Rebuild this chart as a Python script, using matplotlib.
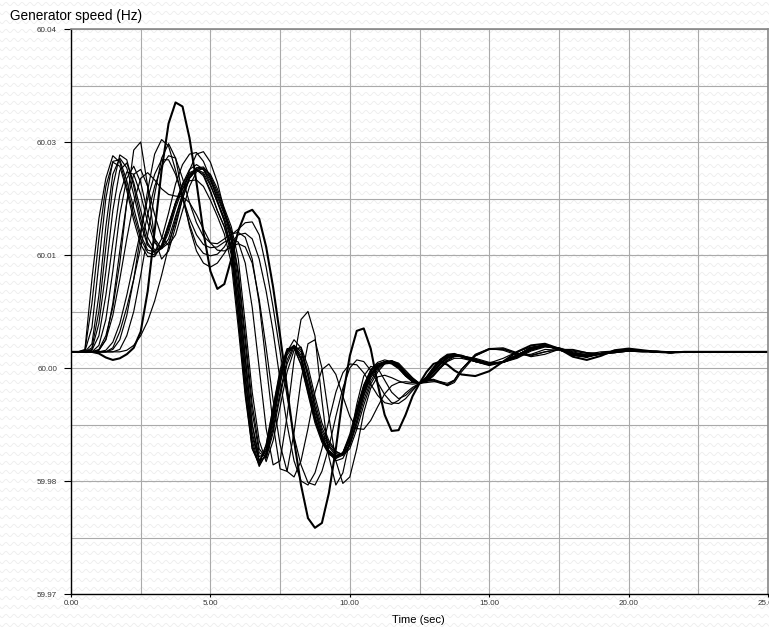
import numpy as np
import matplotlib
matplotlib.use("Agg")
import matplotlib.pyplot as plt
from matplotlib.ticker import FormatStrFormatter

# Sample times: every 0.25 s up to 14 s, then every 0.5 s up to 25 s
t_inicio = np.arange(57) * 0.25
t_final = 14.5 + np.arange(22) * 0.5
tiempo = np.concatenate([t_inicio, t_final])

# Generator speed deviation from 60 Hz, in mHz
a1 = [0, 0, 0.3, 9, 16.5, 21.5, 24.3, 23.5, 20.5, 17, 14, 12.3,
      12, 13, 15.5, 18.5, 20.8, 22.2, 22.6, 21.8, 19.8, 17.5, 15.5, 12,
      4, -5, -12, -14, -11.5, -7, -2.5, 0.2, 0.5, -1.5, -5, -8.5,
      -11, -12.5, -13, -12.5, -10.5, -7.5, -4.8, -2.8, -1.9, -1.5, -1.4, -1.9,
      -2.9, -3.7, -3.9, -3.2, -2, -1, -0.4, -0.3, -0.6,
      -1.2, -1.6, -1.2, -0.4, 0.5, 0.8, 0.3, -0.4, -0.6, -0.2, 0.1,
      0.2, 0.1, 0, -0.1, 0, 0, 0, 0, 0, 0, 0]
a2 = [0, 0, 0, 1, 7, 15.5, 22, 24, 22.8, 19.5, 15.8, 13.2,
      12.4, 13.2, 15.8, 18.5, 20.5, 22, 22.6, 22.2, 20.6, 18.6, 16.6, 13.8,
      7, -2, -10, -13.5, -12.2, -7.8, -3, 0, 0.7, -0.8, -4.2, -8,
      -10.6, -12.2, -12.9, -12.5, -10.6, -7.6, -4.6, -2.6, -1.7, -1.3, -1.3, -1.8,
      -2.8, -3.6, -3.9, -3.3, -2.2, -1.2, -0.5, -0.3, -0.5,
      -1.1, -1.6, -1.3, -0.5, 0.4, 0.8, 0.3, -0.4, -0.6, -0.2, 0.1,
      0.2, 0.1, 0, -0.1, 0, 0, 0, 0, 0, 0, 0]
a3 = [0, 0, 0, 0.3, 3.5, 10, 17.5, 22.5, 23.4, 21, 17.5, 14.2,
      12.6, 12.8, 14.8, 17.8, 20.2, 21.8, 22.8, 22.6, 21.2, 19.2, 17, 14.5,
      8.5, -0.5, -9, -13, -12.5, -8.5, -3.8, -0.4, 0.8, -0.4, -3.8, -7.5,
      -10.2, -11.8, -12.8, -12.7, -11, -8, -5, -2.8, -1.7, -1.2, -1.2, -1.7,
      -2.7, -3.5, -3.9, -3.4, -2.4, -1.4, -0.6, -0.3, -0.4,
      -1, -1.5, -1.3, -0.6, 0.3, 0.7, 0.4, -0.3, -0.6, -0.3, 0.1,
      0.2, 0.1, 0, -0.1, 0, 0, 0, 0, 0, 0, 0]
a4 = [0, 0, 0, 0.5, 5, 13, 20.5, 24.4, 23.8, 20.5, 16.5, 13.5,
      12.2, 12.8, 15.2, 18.2, 20.8, 22.6, 23.2, 22.6, 20.8, 18.5, 16.2, 13,
      5.5, -3.5, -11, -14, -12.6, -8, -3.2, 0, 0.7, -1, -4.6, -8.3,
      -10.8, -12.4, -13, -12.6, -10.6, -7.4, -4.4, -2.4, -1.5, -1.2, -1.4, -2,
      -3, -3.7, -3.9, -3.2, -2.1, -1.1, -0.5, -0.4, -0.6,
      -1.2, -1.7, -1.3, -0.4, 0.5, 0.9, 0.3, -0.4, -0.7, -0.2, 0.1,
      0.2, 0.1, 0, -0.1, 0, 0, 0, 0, 0, 0, 0]
a5 = [0, 0, 0, 0.2, 2, 7, 13.5, 19.5, 22.3, 22, 19.5, 16,
      13.5, 12.8, 14, 16.8, 19.5, 21.6, 22.8, 22.9, 21.8, 19.8, 17.5, 15,
      9.5, 1, -7.5, -12.5, -13, -9.5, -5, -1, 0.8, 0, -3, -6.8,
      -9.8, -11.6, -12.6, -12.8, -11.4, -8.6, -5.5, -3.2, -2, -1.3, -1.1, -1.6,
      -2.6, -3.4, -3.9, -3.5, -2.6, -1.6, -0.8, -0.4, -0.5,
      -1, -1.5, -1.3, -0.6, 0.3, 0.7, 0.4, -0.2, -0.5, -0.3, 0,
      0.2, 0.1, 0, -0.1, 0, 0, 0, 0, 0, 0, 0]
a6 = [0, 0, 0.1, 3, 11, 19, 23.6, 23.8, 21.2, 17.8, 14.5, 12.6,
      12.4, 14, 17.2, 20.8, 23.2, 24.5, 24.7, 23.6, 21.5, 18.8, 16.2, 12.5,
      4.5, -4.5, -11.5, -14.2, -12.6, -8, -3.2, 0.2, 0.8, -0.8, -4.4, -8.2,
      -10.8, -12.5, -13.2, -12.8, -10.6, -7.2, -4.2, -2.2, -1.3, -1, -1.2, -1.9,
      -2.9, -3.7, -3.9, -3.1, -1.9, -0.9, -0.3, -0.2, -0.5,
      -1.2, -1.6, -1.2, -0.4, 0.5, 0.8, 0.3, -0.4, -0.6, -0.2, 0.1,
      0.2, 0.1, 0, 0, 0, 0, 0, 0, 0, 0, 0]
a7 = [0, 0, 0, 0, 0.8, 4, 10, 17, 21.5, 23, 21, 17.2,
      14, 12.8, 13.5, 16, 19, 21.5, 22.6, 22.7, 21.5, 19.5, 17.2, 14.8,
      10, 2, -6.5, -12, -13.2, -10, -5.5, -1.5, 0.6, 0.3, -2.5, -6.2,
      -9.4, -11.3, -12.4, -12.7, -11.6, -9, -6, -3.6, -2.2, -1.4, -1.1, -1.5,
      -2.5, -3.3, -3.9, -3.6, -2.8, -1.8, -1, -0.5, -0.5,
      -0.9, -1.4, -1.3, -0.7, 0.2, 0.7, 0.5, -0.1, -0.5, -0.3, 0,
      0.2, 0.1, 0.1, -0.1, 0, 0, 0, 0, 0, 0, 0]
a8 = [0, 0, 0.2, 6, 14, 20.5, 23.5, 23, 20, 16.3, 13.3, 11.8,
      11.8, 13.2, 15.8, 18.4, 20.2, 21.2, 21.3, 20.5, 18.8, 16.8, 14.6, 11,
      3, -5.5, -12, -13.8, -11.5, -6.8, -2.2, 0.4, 0.5, -1.6, -5.2, -8.8,
      -11.2, -12.7, -13.2, -12.5, -10.2, -7, -4.1, -2.3, -1.5, -1.3, -1.5, -2.1,
      -3, -3.7, -3.9, -3.1, -2, -1, -0.4, -0.3, -0.6,
      -1.2, -1.6, -1.2, -0.4, 0.5, 0.8, 0.3, -0.4, -0.6, -0.2, 0.1,
      0.2, 0.1, 0, -0.1, 0, 0, 0, 0, 0, 0, 0]
a9 = [0, 0, 0, 0, 0.2, 1.5, 6, 12.5, 18.5, 22, 22.6, 20.5,
      17, 14.2, 13.2, 14.5, 17.5, 20.5, 22.3, 22.8, 22, 20.2, 17.8, 15.5,
      11.5, 3.5, -5, -11, -13.6, -11, -6.8, -2.5, 0.2, 0.6, -1.8, -5.5,
      -8.8, -11, -12.3, -12.8, -12, -9.6, -6.6, -4, -2.5, -1.5, -1.1, -1.4,
      -2.3, -3.2, -3.9, -3.7, -3, -2, -1.1, -0.6, -0.5,
      -0.8, -1.3, -1.3, -0.8, 0.1, 0.6, 0.5, 0, -0.4, -0.3, 0,
      0.2, 0.1, 0.1, 0, 0, 0, 0, 0, 0, 0, 0]
b1 = [0, 0, 0, 0, 0.3, 2, 5.5, 11, 18.5, 25, 26, 20.5,
      14, 11.5, 12.5, 15.5, 19, 21.5, 22.5, 22, 20, 17.5, 15.5, 13,
      6, -3, -10.5, -13.5, -12, -7.5, -3, 0, 0.7, -0.8, -4.3, -8,
      -10.7, -12.3, -13, -12.6, -10.8, -7.8, -4.8, -2.8, -1.8, -1.4, -1.4, -1.9,
      -2.8, -3.5, -3.9, -3.4, -2.4, -1.4, -0.7, -0.4, -0.6,
      -1.1, -1.5, -1.2, -0.4, 0.5, 0.9, 0.4, -0.3, -0.5, -0.2, 0.1,
      0.2, 0.1, 0, 0, 0, 0, 0, 0, 0, 0, 0]
b2 = [0, 0, 0, 0, 0, 0, 0.3, 1.5, 4.5, 9, 14.5, 20,
      24.5, 26.3, 25.5, 22.5, 19, 15.8, 13.3, 12.2, 11.9, 12.1, 13, 14.5,
      15.2, 16, 16.1, 14.5, 10.5, 5.5, 0, -5.5, -10.5, -14, -16.2, -16.5,
      -14.8, -11.8, -8, -4.5, -2, -1, -1.2, -2.3, -3.8, -5.3, -6.3, -6.4,
      -5.8, -4.8, -3.9, -3.6, -3.6, -3.9, -4.1, -3.5, -2.2,
      -0.3, 0.4, 0.2, -0.4, -0.3, 0.3, 0.2, -0.2, -0.3, 0, 0.1,
      0.1, 0, 0, 0, 0, 0, 0, 0, 0, 0, 0]
b3 = [0, 0, 0, 0, 0, 0, 0, 0.3, 2, 5, 9.5, 14.5,
      19.5, 24, 25.8, 24, 19.5, 15.5, 12.5, 11, 10.5, 11, 12.2, 13.6,
      14.5, 14.7, 14, 11.5, 7.5, 2.5, -3.5, -9, -13.5, -16, -16.5, -15,
      -12, -8.5, -5, -2.6, -1.5, -1.6, -2.6, -4, -5.4, -6.3, -6.5, -6,
      -5.1, -4.4, -3.9, -3.6, -3.5, -3.8, -4.2, -3.8, -2.5,
      -0.5, 0.3, 0.4, -0.2, -0.5, 0, 0.3, 0.1, -0.2, -0.3, -0.1,
      0.1, 0.1, 0, 0, 0, 0, 0, 0, 0, 0, 0]
b4 = [0, 0, 0, 0, 0, 0.2, 1.2, 3.5, 7, 11, 15, 19,
      22, 23.8, 23.8, 22, 19.2, 16.5, 14.5, 13.3, 12.9, 13, 13.6, 14,
      13.6, 11, 5.5, -2, -9.5, -14, -13.5, -8, -1, 4, 5, 2,
      -6, -13, -16.5, -15, -11, -6.5, -3, -1.8, -2, -3.5, -5, -5.8,
      -5.4, -4.6, -3.9, -3.5, -3.4, -3.7, -4.1, -3.6, -2.2,
      -0.4, 0.4, 0.5, -0.1, -0.6, -0.3, 0.3, 0.3, -0.1, -0.3, -0.1,
      0.1, 0.1, 0, 0, 0, 0, 0, 0, 0, 0, 0]
b5 = [0, 0, 0, 0, 0.2, 1.5, 4.5, 9, 14, 18.5, 21.5, 22.2,
      21.3, 20.2, 19.5, 19.3, 19.2, 18.5, 17, 15.2, 13.5, 12.6, 12.5, 13,
      13.4, 13, 11, 6.5, 0.5, -6, -11.5, -14.8, -15.5, -13.5, -9.5, -5,
      -2.2, -1.5, -2.8, -5.5, -8, -9.5, -9.6, -8.5, -6.8, -5.2, -4.2, -3.8,
      -3.7, -3.8, -3.9, -3.6, -2.9, -2, -1.2, -0.8, -0.8,
      -1.2, -1.4, -0.8, 0, 0.6, 0.7, 0.3, -0.2, -0.4, -0.2, 0.1,
      0.2, 0.1, 0, 0, 0, 0, 0, 0, 0, 0, 0]
b6 = [0, 0, 0, 0, 0, 0, 0.5, 2.5, 5.5, 9, 13, 17,
      20.5, 23, 24.3, 24, 21.5, 18.5, 16, 14.3, 13.5, 13.4, 14, 14.6,
      14.8, 14.2, 11.5, 6, -1.5, -9, -14.5, -14.8, -10, -3.5, 1, 1.5,
      -2, -8, -13.5, -16.3, -15.5, -12, -7.5, -4.5, -3.1, -2.9, -3.2, -3.6,
      -3.9, -4, -3.9, -3.8, -3.7, -3.7, -3.9, -3.5, -2.2,
      -0.5, 0.3, 0.3, -0.2, -0.4, 0, 0.3, 0.2, -0.1, -0.2, -0.1,
      0.1, 0, 0, 0, 0, 0, 0, 0, 0, 0, 0]
c1 = [0, 0, 0, 0, 0, 0, 0, 0, 0.2, 0.8, 2, 3.8,
      6.3, 9.5, 13, 16.5, 19.5, 22.5, 24.5, 24.8, 23.5, 21, 17.5, 13.8,
      7.5, -1, -9, -13.5, -13, -9, -4, 0, 1.5, 0.5, -3, -7,
      -10.3, -12.5, -13.5, -13.2, -11.5, -8.5, -5.3, -3, -1.8, -1.2, -1.2, -1.7,
      -2.7, -3.5, -3.9, -3.5, -2.5, -1.5, -0.8, -0.5, -0.6,
      -1, -1.5, -1.3, -0.5, 0.4, 0.8, 0.4, -0.3, -0.5, -0.2, 0.1,
      0.2, 0.1, 0, 0, 0, 0, 0, 0, 0, 0, 0]
# the unit with the largest swing (drawn thicker)
maior = [0, 0, 0, 0, -0.2, -0.7, -1, -0.8, -0.3, 0.5, 2.5, 7.5,
         15, 22.5, 28.3, 30.9, 30.4, 26.5, 21, 14.8, 10, 7.8, 8.4, 11.5,
         15, 17.2, 17.6, 16.5, 13, 8, 2, -4.5, -11, -16.5, -20.6, -21.8,
         -21.2, -17.5, -12, -5.5, -0.5, 2.6, 2.9, 0.4, -4, -7.8, -9.8, -9.7,
         -7.8, -5.5, -3.9, -2.5, -1.5, -1.2, -1.6, -2.3, -2.8,
         -3, -2.4, -1.2, 0, 0.8, 1.0, 0.4, -0.6, -1.0, -0.5, 0.2,
         0.4, 0.2, 0, -0.1, 0, 0, 0, 0, 0, 0, 0]

curvas = [a1, a2, a3, a4, a5, a6, a7, a8, a9, b1, b2, b3, b4, b5, b6, c1]

y_ticks = np.linspace(59.97, 60.04, 6)
y_grid = np.linspace(59.97, 60.04, 11)
x_ticks = np.arange(0, 25.1, 5)
x_grid = np.arange(0, 25.1, 2.5)


def fundo_ondulado(fig):
    """Faint wavy texture behind the whole picture"""
    bg = fig.add_axes([0, 0, 1, 1], zorder=-1)
    bg.set_xlim(0, 769)
    bg.set_ylim(629, 0)
    bg.axis("off")
    xs = np.linspace(0, 769, 3000)
    for y0 in np.arange(4, 629, 9):
        bg.plot(xs, y0 + 1.6 * np.sin(2 * np.pi * xs / 8.0),
                color="#ededed", lw=0.6)


def criar_grafico():
    plt.rcParams["font.family"] = ["Liberation Sans", "DejaVu Sans"]
    fig = plt.figure(figsize=(7.69, 6.29), dpi=100, facecolor="white")
    fundo_ondulado(fig)

    ax = fig.add_axes([71 / 769, 1 - 594 / 629, 697 / 769, 565 / 629])
    ax.set_facecolor("none")

    estilo = dict(color="black", solid_joinstyle="round", solid_capstyle="round")
    for c in curvas:
        assert len(c) == len(tiempo)
        ax.plot(tiempo, 60 + np.array(c) / 1000.0, lw=0.85, **estilo)
    ax.plot(tiempo, 60 + np.array(maior) / 1000.0, lw=1.5, **estilo)

    ax.set_xlim(0, 25)
    ax.set_ylim(59.97, 60.04)
    ax.set_xticks(x_ticks)
    ax.set_xticks(x_grid, minor=True)
    ax.set_yticks(y_ticks)
    ax.set_yticks(y_grid, minor=True)
    ax.xaxis.set_major_formatter(FormatStrFormatter("%.2f"))
    ax.yaxis.set_major_formatter(FormatStrFormatter("%.2f"))
    ax.grid(which="both", color="#aaaaaa", lw=0.8)
    ax.set_axisbelow(True)
    ax.tick_params(which="minor", length=0)
    ax.tick_params(axis="y", which="major", length=5, width=0.8, pad=5,
                   labelsize=5.8, labelcolor="#333333")
    ax.tick_params(axis="x", which="major", length=2.5, width=0.8, pad=1.5,
                   labelsize=5.8, labelcolor="#333333")

    for lado in ["left", "bottom"]:
        ax.spines[lado].set_color("black")
        ax.spines[lado].set_linewidth(1.0)
    for lado in ["top", "right"]:
        ax.spines[lado].set_color("#888888")
        ax.spines[lado].set_linewidth(1.2)

    fig.text(10 / 769, 1 - 16 / 629, "Generator speed (Hz)",
             fontsize=9.8, ha="left", va="center")
    fig.text(418 / 769, 1 - 620 / 629, "Time (sec)",
             fontsize=8.1, ha="center", va="center")

    fig.savefig("out.png", dpi=100, facecolor="white")


if __name__ == "__main__":
    criar_grafico()
